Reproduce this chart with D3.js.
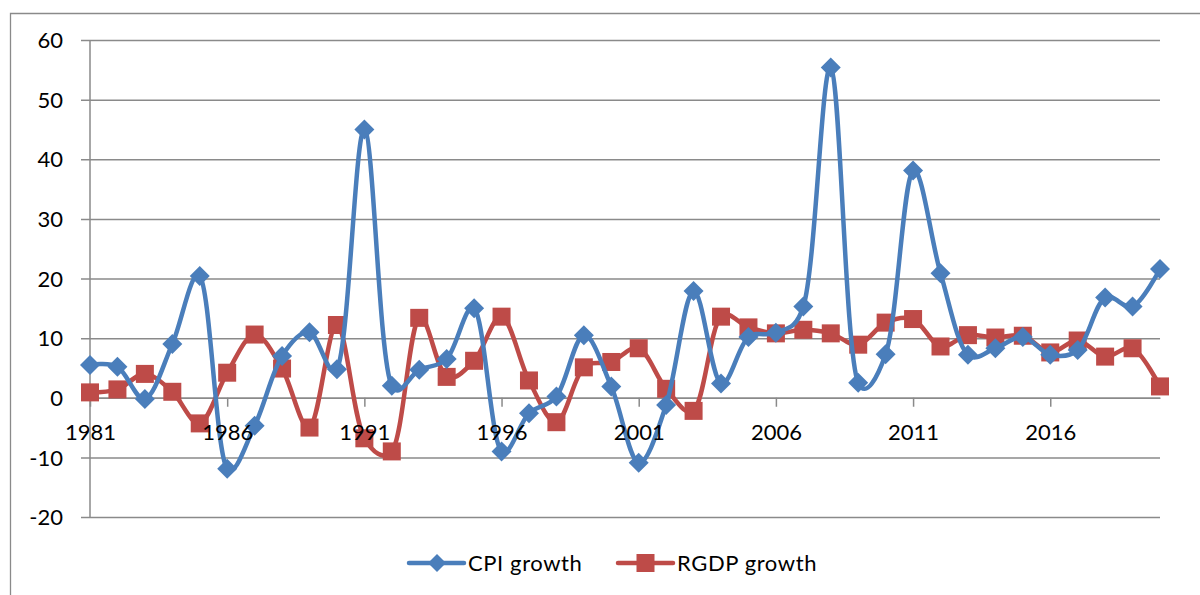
<!DOCTYPE html>
<html>
<head>
<meta charset="utf-8">
<script src="https://cdn.jsdelivr.net/npm/d3@7"></script>
<style>
  html, body { margin: 0; padding: 0; background: #ffffff; }
  svg { display: block; }
  text { font-family: Lato, "Open Sans", "Liberation Sans", sans-serif; fill: #000; }
</style>
</head>
<body>
<svg id="chart" width="1200" height="595"></svg>
<script>
// Annual growth rates, 1981–2020
const years = d3.range(1981, 2021);
const cpiGrowth = [
  5.5, 5.2, -0.2, 9.0, 20.4, -11.9, -4.7, 7.0, 11.0, 4.8,
  45.0, 2.0, 4.7, 6.5, 15.0, -9.0, -2.6, 0.2, 10.5, 1.9,
  -10.9, -1.2, 17.9, 2.4, 10.2, 10.9, 15.3, 55.4, 2.5, 7.3,
  38.1, 20.9, 7.2, 8.3, 10.2, 7.2, 8.0, 16.8, 15.3, 21.6
];
const rgdpGrowth = [
  0.9, 1.4, 4.0, 1.0, -4.3, 4.2, 10.6, 4.9, -5.0, 12.2,
  -6.8, -9.0, 13.4, 3.5, 6.2, 13.6, 2.9, -4.1, 5.1, 6.0,
  8.3, 1.5, -2.2, 13.6, 11.8, 10.8, 11.4, 10.8, 8.9, 12.6,
  13.2, 8.6, 10.5, 10.1, 10.4, 7.6, 9.6, 6.9, 8.3, 1.9
];
const yTicks = [-20, -10, 0, 10, 20, 30, 40, 50, 60];
const xTickYears = [1981, 1986, 1991, 1996, 2001, 2006, 2011, 2016];
const seriesNames = ["CPI growth", "RGDP growth"];

const blue = "#4a7ebb";
const red = "#be4b48";
const gridColor = "#8a8a8a";

const svg = d3.select("#chart");

const x = d3.scaleLinear().domain([1981, 2020]).range([90, 1160]);
const y = d3.scaleLinear().domain([-20, 60]).range([517, 40]);

// chart frame
svg.append("path")
  .attr("d", "M10.5,600 L10.5,13.5 L1205,13.5")
  .attr("fill", "none").attr("stroke", gridColor).attr("stroke-width", 1.3);

// horizontal gridlines + y ticks + labels
const yAxis = d3.axisLeft(y).tickValues(yTicks).tickSize(-(1160 - 90)).tickSizeOuter(0)
  .tickFormat(d => String(d)).tickPadding(0);
const gy = svg.append("g").attr("transform", "translate(90,0)").call(yAxis);
gy.select(".domain").remove();
gy.selectAll(".tick line").attr("stroke", gridColor).attr("stroke-width", 1.5).attr("x1", -9);
gy.selectAll(".tick text").attr("x", -27).attr("dy", "0.35em")
  .style("font-size", "22px").attr("fill", "#000");

// vertical axis line
svg.append("line")
  .attr("x1", 90).attr("x2", 90).attr("y1", y(60)).attr("y2", y(-20))
  .attr("stroke", gridColor).attr("stroke-width", 1.5);

// horizontal axis crossing at zero
const xAxis = d3.axisBottom(x).tickValues(xTickYears).tickSize(9).tickSizeOuter(0)
  .tickFormat(d => String(d)).tickPadding(0);
const gx = svg.append("g").attr("transform", `translate(0,${y(0)})`).call(xAxis);
gx.select(".domain").attr("stroke", gridColor).attr("stroke-width", 1.5);
gx.selectAll(".tick line").attr("stroke", gridColor).attr("stroke-width", 1.5);
gx.selectAll(".tick text").attr("y", 35).attr("dy", "0.35em")
  .style("font-size", "22px").attr("fill", "#000");

const line = d3.line()
  .x((d, i) => x(years[i]))
  .y(d => y(d))
  .curve(d3.curveCatmullRom.alpha(0.25));

const diamond = s => `M0,${-s} L${s},0 L0,${s} L${-s},0 Z`;

// RGDP series
svg.append("path").datum(rgdpGrowth)
  .attr("d", line).attr("fill", "none")
  .attr("stroke", red).attr("stroke-width", 4.5).attr("stroke-linejoin", "round");
svg.append("g").selectAll("rect").data(rgdpGrowth).join("rect")
  .attr("x", (d, i) => x(years[i]) - 9).attr("y", d => y(d) - 9)
  .attr("width", 18).attr("height", 18).attr("fill", red);

// CPI series
svg.append("path").datum(cpiGrowth)
  .attr("d", line).attr("fill", "none")
  .attr("stroke", blue).attr("stroke-width", 4.5).attr("stroke-linejoin", "round");
svg.append("g").selectAll("path").data(cpiGrowth).join("path")
  .attr("transform", (d, i) => `translate(${x(years[i])},${y(d)})`)
  .attr("d", diamond(10)).attr("fill", blue);

// year labels sit above the series
gx.selectAll(".tick text").each(function () {
  const t = d3.select(this);
  const tick = d3.select(this.parentNode);
  svg.append("text")
    .attr("transform", tick.attr("transform") + ` translate(0,${y(0)})`)
    .attr("x", 0).attr("y", 35).attr("dy", "0.35em")
    .attr("text-anchor", "middle")
    .style("font-size", "22px")
    .text(t.text());
  t.remove();
});

// legend
const legend = svg.append("g").attr("transform", "translate(0,563)");
const legendItems = [
  { name: seriesNames[0], color: blue, x0: 409, shape: "diamond" },
  { name: seriesNames[1], color: red, x0: 618, shape: "square" }
];
legendItems.forEach(it => {
  legend.append("line")
    .attr("x1", it.x0).attr("x2", it.x0 + 55).attr("y1", 0).attr("y2", 0)
    .attr("stroke", it.color).attr("stroke-width", 4.5).attr("stroke-linecap", "round");
  if (it.shape === "diamond") {
    legend.append("path").attr("transform", `translate(${it.x0 + 28},0)`)
      .attr("d", diamond(9)).attr("fill", it.color);
  } else {
    legend.append("rect").attr("x", it.x0 + 27.5 - 9).attr("y", -9)
      .attr("width", 18).attr("height", 18).attr("fill", it.color);
  }
  legend.append("text").attr("x", it.x0 + 59).attr("y", 0).attr("dy", "0.35em")
    .style("font-size", "22px").style("letter-spacing", "0.6px").text(it.name);
});
</script>
</body>
</html>
